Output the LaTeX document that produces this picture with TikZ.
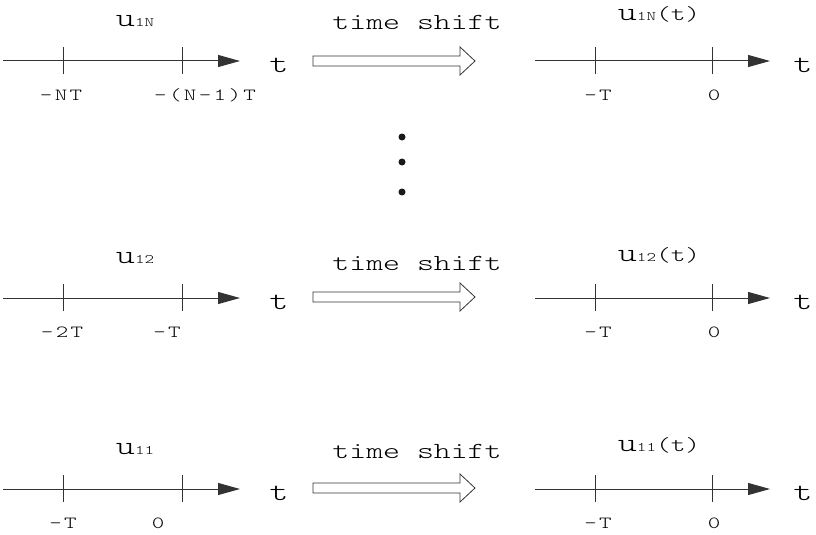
\documentclass[tikz,border=0pt]{standalone}
\usepackage{fontspec}
\usetikzlibrary{arrows.meta}

% wide, light typewriter face for every label
\newfontfamily\cour[FakeStretch=1.4]{lmmonolt10-regular.otf}
\newfontfamily\courwide[FakeStretch=1.4,LetterSpace=14]{lmmonolt10-regular.otf}

\tikzset{
  axis/.style={line width=1pt, black!80, -{Triangle[length=22pt,width=12pt]}},
  tick/.style={line width=0.8pt, black!80},
  ticklab/.style={font=\courwide\fontsize{17}{17}\selectfont, text=black, inner sep=0, anchor=base},
  tvar/.style={font=\cour\fontsize{26}{26}\selectfont, text=black, inner sep=0, anchor=base},
  shiftlab/.style={font=\cour\fontsize{23}{23}\selectfont, text=black, inner sep=0, anchor=base},
  sig/.style={font=\cour\fontsize{20}{20}\selectfont, text=black, inner sep=0, anchor=base},
  hollow/.style={line width=0.8pt, black!80},
  vdot/.style={circle, fill=black!90, inner sep=0, minimum size=7pt},
}
\newcommand{\usig}[1]{{\fontsize{26}{26}\selectfont u}{\fontsize{13}{13}\selectfont #1}}

\begin{document}
\begin{tikzpicture}[x=1pt, y=-1pt]
	\useasboundingbox (0,0) rectangle (816,535);

	%%%%% axes, ticks and shift arrows, one row each %%%%%
	\foreach \r/\y/\s in {n/61/61, b/298/297, a/489/488} {
		% signal before the shift
		\coordinate (ls\r) at (3,\y);
		\coordinate (le\r) at (240,\y);
		\draw[axis] (ls\r) -- (le\r);
		\draw[tick] (63,\y-14) -- (63,\y+13);
		\draw[tick] (182,\y-14) -- (182,\y+13);
		\node[tvar] (lt\r) at (279,\y+11) {t};

		% the shift itself
		\draw[hollow] (313,\s-5) -- (460,\s-5) -- (460,\s-14) -- (475,\s)
			-- (460,\s+14) -- (460,\s+5) -- (313,\s+5) -- cycle;

		% signal after the shift
		\coordinate (rs\r) at (535,\y);
		\coordinate (re\r) at (770,\y);
		\draw[axis] (rs\r) -- (re\r);
		\draw[tick] (595,\y-14) -- (595,\y+13);
		\draw[tick] (712,\y-14) -- (712,\y+13);
		\node[tvar] (rt\r) at (803,\y+11) {t};
		\node[ticklab] (rm\r) at (598,\y+39) {-T};
		\node[ticklab] (rz\r) at (714,\y+39) {0};
	}

	%%%%% top row %%%%%
	\node[sig] (un) at (135,27) {\usig{1N}};
	\node[shiftlab] (sn) at (417,30) {time shift};
	\node[sig] (vn) at (659,21) {\usig{1N}(t)};
	\node[ticklab] (ln1) at (61,100) {-NT};
	\node[ticklab] (ln2) at (205,100) {-(N-1)T};

	% dots between the rows
	\node[vdot] (d1) at (402,137) {};
	\node[vdot] (d2) at (402,162) {};
	\node[vdot] (d3) at (402,192) {};

	%%%%% middle row %%%%%
	\node[sig] (ub) at (135,263) {\usig{12}};
	\node[shiftlab] (sb) at (417,270) {time shift};
	\node[sig] (vb) at (659,261) {\usig{12}(t)};
	\node[ticklab] (lb1) at (62,337) {-2T};
	\node[ticklab] (lb2) at (167,337) {-T};

	%%%%% bottom row %%%%%
	\node[sig] (ua) at (135,454) {\usig{11}};
	\node[shiftlab] (sa) at (417,458) {time shift};
	\node[sig] (va) at (659,451) {\usig{11}(t)};
	\node[ticklab] (la1) at (63,528) {-T};
	\node[ticklab] (la2) at (158,528) {0};
\end{tikzpicture}
\end{document}
